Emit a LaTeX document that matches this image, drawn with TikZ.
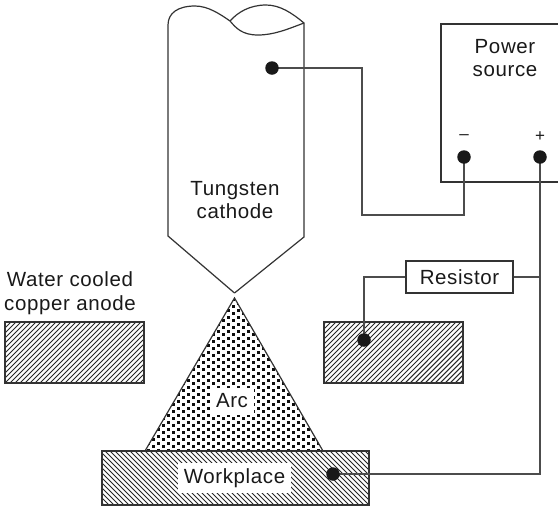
\documentclass[tikz,border=0pt]{standalone}
\usepackage{fontspec}
\setmainfont[LetterSpace=3]{Liberation Sans}
\pgfdeclarelayer{termlayer}
\pgfsetlayers{main,termlayer}
\tikzset{
  wire/.style={draw=black!70,line width=1.1pt},
  outline/.style={draw=black!80,line width=1.2pt},
  term/.style={circle,fill=black!90,draw=none,minimum size=13.5pt,inner sep=0pt},
  lbl/.style={font=\fontsize{20.5}{23.5}\selectfont,align=center,inner sep=0pt,text=black!90},
  whitelbl/.style={lbl,fill=white},
  hatchline/.style={draw=black!85,line width=1.05pt},
  signlbl/.style={font=\fontsize{17}{17}\selectfont,text=black!90,inner sep=0pt},
}
\begin{document}
\begin{tikzpicture}[x=1pt,y=-1pt]
\useasboundingbox (0,0) rectangle (558,507);
% left anode
\begin{scope}
\clip (5,322) rectangle (144,383);
\foreach \i in {-60,-55,...,150} {\draw[hatchline] (\i,383) -- ++(61,-61);}
\end{scope}
\draw[outline] (5,322) rectangle (144,383);
% right anode
\begin{scope}
\clip (324,322) rectangle (463,383);
\foreach \i in {260,265,...,470} {\draw[hatchline] (\i,383) -- ++(61,-61);}
\end{scope}
\draw[outline] (324,322) rectangle (463,383);
% arc
\begin{scope}
\clip (234.5,298) -- (145,451) -- (323,451) -- cycle;
\foreach \i in {0,...,37} {
  \pgfmathsetmacro{\oy}{mod(\i,2)*3.5}
  \foreach \j in {0,...,22} {
    \fill[black!95] ({142+\i*5},{298+\oy+\j*7}) rectangle ++(3.3,3.3);
  }
}
\end{scope}
\draw[outline] (145,451) -- (234.5,298) -- (323,451);
% workplace
\begin{scope}
\clip (102,451) rectangle (369,505);
\foreach \i in {40,45,...,380} {\draw[hatchline] (\i,451) -- ++(54,54);}
\end{scope}
\draw[outline] (102,451) rectangle (369,505);
% cathode
\draw[outline] (234.5,293) -- (304,237) -- (304,23)
  .. controls (292,13) and (280,5) .. (266,5)
  .. controls (250,5) and (238,12) .. (230,21);
\draw[outline] (304,23) .. controls (288,29) and (274,35) .. (258,35)
  .. controls (242,35) and (236,28) .. (230,21)
  .. controls (220,14) and (208,6) .. (195,6)
  .. controls (178,6) and (168,13) .. (168,25)
  -- (168,236) -- (234.5,293);
% power box
\draw[outline] (558,24) -- (441,24) -- (441,182) -- (558,182);
\node[lbl] (power) at (505,58) {Power\\source};
\node[signlbl] (minus) at (464,137) {–};
\node[signlbl] (plus) at (540,137) {+};
% terminals
\begin{pgfonlayer}{termlayer}
\node[term] (cdot) at (272,68) {};
\node[term] (neg) at (464,157) {};
\node[term] (pos) at (540,157) {};
\node[term] (adot) at (364,340) {};
\node[term] (wdot) at (333,474) {};
\end{pgfonlayer}
% resistor
\node[lbl,draw=black!80,line width=1.2pt,minimum width=107pt,minimum height=32pt] (res) at (459.5,277) {Resistor};
% wires
\coordinate (w1) at (362,68);
\coordinate (w2) at (362,215);
\coordinate (w3) at (464,215);
\coordinate (w4) at (540,277);
\coordinate (w5) at (540,474);
\coordinate (w6) at (364,277);
\draw[wire] (cdot.center) -- (w1) -- (w2) -- (w3) -- (neg.center);
\draw[wire] (pos.center) -- (w4) -- (w5) -- (wdot.center);
\draw[wire] (res.east) -- (w4);
\draw[wire] (res.west) -- (w6) -- (adot.center);
% labels
\node[lbl] (cath) at (235,200) {Tungsten\\cathode};
\node[lbl] (anode) at (70,293) {Water cooled\\copper anode};
\node[whitelbl,minimum width=44pt,minimum height=27pt] (arc) at (232,401) {Arc};
\node[whitelbl,minimum width=113pt,minimum height=30pt] (work) at (234.5,478) {Workplace};
\end{tikzpicture}
\end{document}
